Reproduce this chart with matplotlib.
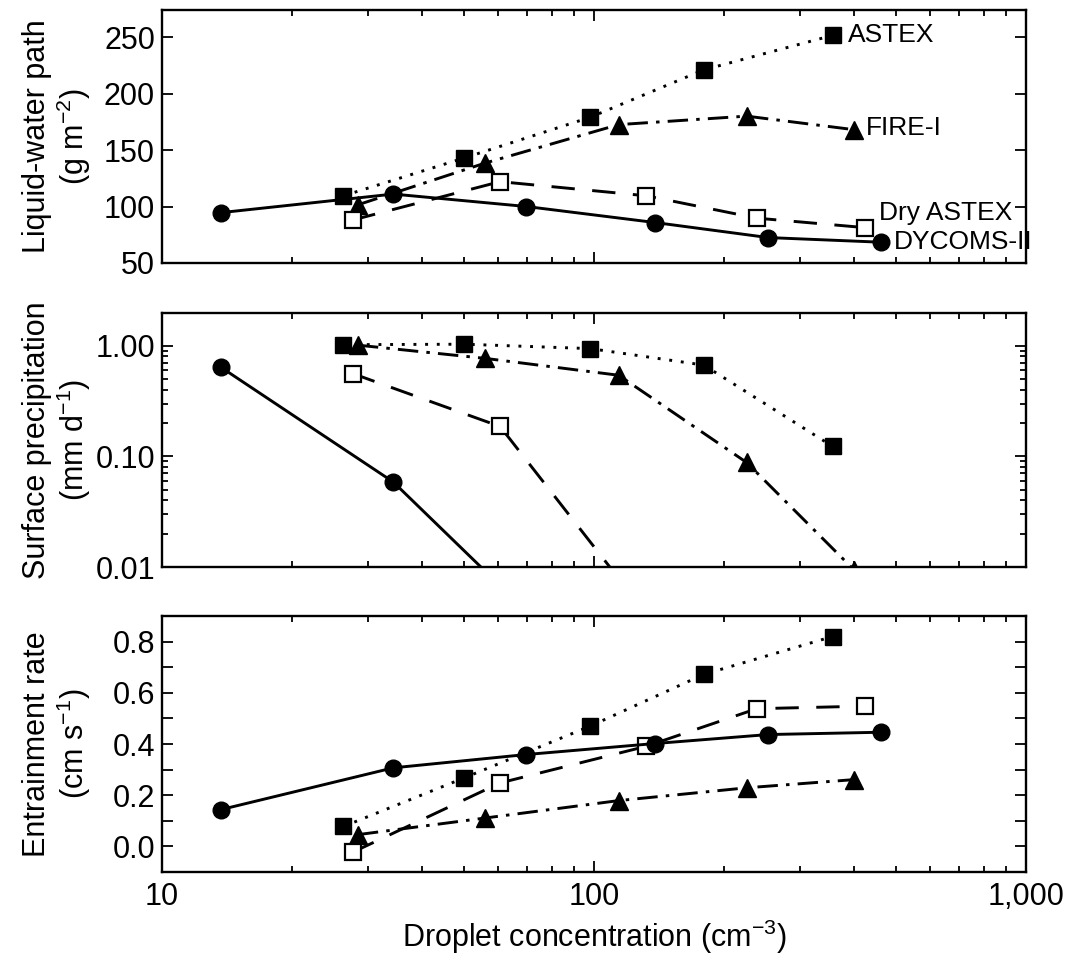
import numpy as np
import matplotlib
matplotlib.use('Agg')
import matplotlib.pyplot as plt
from matplotlib.ticker import FixedLocator, FuncFormatter, NullFormatter, LogLocator

plt.rcParams['font.family'] = ['Liberation Sans', 'DejaVu Sans']
plt.rcParams['mathtext.fontset'] = 'custom'
plt.rcParams['mathtext.rm'] = 'Liberation Sans'
plt.rcParams['mathtext.it'] = 'Liberation Sans'
plt.rcParams['axes.unicode_minus'] = True

# droplet concentration (cm-3) for each case
n_dycoms = [13.7, 34.3, 69.7, 138.5, 253, 461]
n_astex = [26.3, 50.1, 98, 179.5, 356.6]
n_fire = [28.4, 56, 114, 225.5, 400]
n_dry = [27.6, 60.6, 132, 238, 424]

# liquid-water path (g m-2)
lwp_dycoms = [94.6, 111, 100, 85.8, 72.5, 68.4]
lwp_astex = [109.5, 143, 179, 221, 251.5]
lwp_fire = [101.5, 138.5, 172.5, 180, 168]
lwp_dry = [88, 122, 109.5, 89.7, 81.3]

# surface precipitation (mm d-1); points below 0.01 fall off the axis
pr_dycoms = [0.636, 0.0586, 0.004, 0.002, 0.001, 0.001]
pr_astex = [1.02, 1.03, 0.94, 0.667, 0.123]
pr_fire = [1.01, 0.767, 0.54, 0.088, 0.0094]
pr_dry = [0.56, 0.186, 0.0038, 0.002, 0.001]

# entrainment rate (cm s-1)
we_dycoms = [0.144, 0.307, 0.359, 0.402, 0.437, 0.446]
we_astex = [0.078, 0.268, 0.47, 0.672, 0.82]
we_fire = [0.046, 0.111, 0.179, 0.229, 0.261]
we_dry = [-0.023, 0.248, 0.391, 0.538, 0.548]

fs = 22

fig = plt.figure(figsize=(10.76, 9.57), dpi=100)
L, W = 0.1506, 0.8030
ax1 = fig.add_axes([L, 0.7252, W, 0.2644])
ax2 = fig.add_axes([L, 0.4075, W, 0.2654])
ax3 = fig.add_axes([L, 0.0888, W, 0.2675])
axs = [ax1, ax2, ax3]

lw = 2.1
sty = {
    'DYCOMS-II': dict(color='k', lw=lw, ls='-', marker='o', ms=12, mfc='k', mec='k'),
    'ASTEX': dict(color='k', lw=lw, ls=(0, (1.0, 3.0)), marker='s', ms=12, mfc='k', mec='k'),
    'FIRE-I': dict(color='k', lw=lw, ls=(0, (7, 2.8, 1.2, 2.8)), marker='^', ms=13, mfc='k', mec='k'),
    'Dry ASTEX': dict(color='k', lw=lw, ls=(0, (8, 6)), marker='s', ms=12, mfc='white', mec='k', mew=1.6),
}

panels = [
    (ax1, lwp_dycoms, lwp_astex, lwp_fire, lwp_dry),
    (ax2, pr_dycoms, pr_astex, pr_fire, pr_dry),
    (ax3, we_dycoms, we_astex, we_fire, we_dry),
]
for ax, yd, ya, yf, ydr in panels:
    ax.plot(n_astex, ya, **sty['ASTEX'])
    ax.plot(n_fire, yf, **sty['FIRE-I'])
    ax.plot(n_dry, ydr, **sty['Dry ASTEX'])
    ax.plot(n_dycoms, yd, **sty['DYCOMS-II'])

for ax in axs:
    ax.set_xscale('log')
    ax.set_xlim(10, 1000)
    ax.tick_params(which='both', direction='in', top=True, right=True, labelsize=fs, width=1.3)
    ax.tick_params(which='major', length=8, pad=5)
    ax.tick_params(which='minor', length=4)
    for s in ax.spines.values():
        s.set_linewidth(1.7)
    ax.xaxis.set_major_locator(FixedLocator([10, 100, 1000]))
    ax.xaxis.set_minor_locator(LogLocator(base=10, subs=np.arange(2, 10)))
    ax.xaxis.set_minor_formatter(NullFormatter())

ax1.xaxis.set_major_formatter(NullFormatter())
ax2.xaxis.set_major_formatter(NullFormatter())
ax3.xaxis.set_major_formatter(FuncFormatter(lambda v, p: '{:,.0f}'.format(v)))
ax3.tick_params(axis='x', which='major', pad=7)

# top panel
ax1.set_ylim(50, 274)
ax1.yaxis.set_major_locator(FixedLocator([50, 100, 150, 200, 250]))
ax1.set_ylabel('Liquid-water path\n(g m$^{\\mathregular{−2}}$)', fontsize=fs, linespacing=1.1)

# middle panel
ax2.set_yscale('log')
ax2.set_ylim(0.01, 1.97)
ax2.yaxis.set_major_locator(FixedLocator([0.01, 0.1, 1.0]))
ax2.yaxis.set_major_formatter(FuncFormatter(lambda v, p: '%.2f' % v))
ax2.yaxis.set_minor_locator(LogLocator(base=10, subs=np.arange(2, 10)))
ax2.yaxis.set_minor_formatter(NullFormatter())
ax2.set_ylabel('Surface precipitation\n(mm d$^{\\mathregular{−1}}$)', fontsize=fs, linespacing=1.1)

# bottom panel
ax3.set_ylim(-0.1, 0.9)
ax3.yaxis.set_major_locator(FixedLocator([0.0, 0.2, 0.4, 0.6, 0.8]))
ax3.yaxis.set_major_formatter(FuncFormatter(lambda v, p: '%.1f' % v))
ax3.yaxis.set_minor_locator(FixedLocator([-0.1, 0.1, 0.3, 0.5, 0.7]))
ax3.tick_params(axis='y', which='minor', length=8)
ax3.set_ylabel('Entrainment rate\n(cm s$^{\\mathregular{−1}}$)', fontsize=fs, linespacing=1.1)
ax3.set_xlabel('Droplet concentration (cm$^{\\mathregular{−3}}$)', fontsize=fs, labelpad=4)

for ax in axs:
    ax.yaxis.set_label_coords(-0.08, 0.5)

# case labels in the top panel
afs = 19
ax1.annotate('ASTEX', (n_astex[-1], lwp_astex[-1]), xytext=(15, 0),
             textcoords='offset pixels', fontsize=afs, va='center', ha='left')
ax1.annotate('FIRE-I', (n_fire[-1], lwp_fire[-1]), xytext=(12, 2),
             textcoords='offset pixels', fontsize=afs, va='center', ha='left')
ax1.annotate('Dry ASTEX', (n_dry[-1], lwp_dry[-1]), xytext=(14, 15),
             textcoords='offset pixels', fontsize=afs, va='center', ha='left')
ax1.annotate('DYCOMS-II', (n_dycoms[-1], lwp_dycoms[-1]), xytext=(13, 0),
             textcoords='offset pixels', fontsize=afs, va='center', ha='left')

plt.savefig('out.png', dpi=100)
